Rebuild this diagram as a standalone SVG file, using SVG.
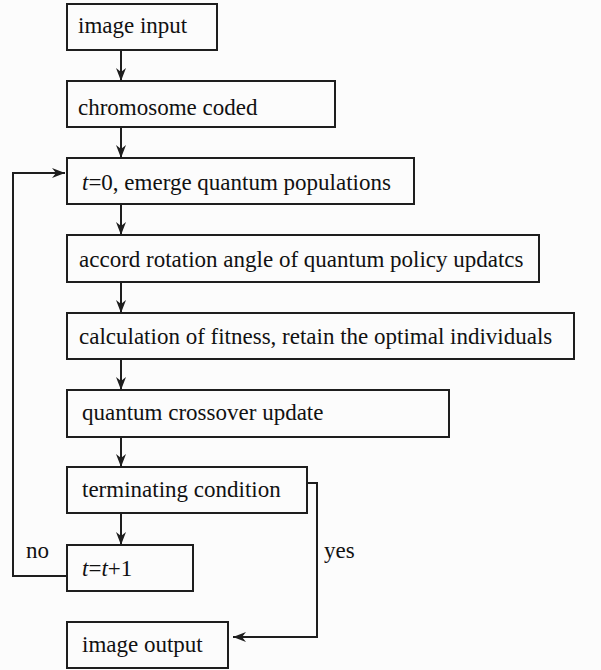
<svg xmlns="http://www.w3.org/2000/svg" width="601" height="670" viewBox="0 0 601 670">
<style>
.box{fill:none;stroke:#1e1e1e;stroke-width:2}
.con{fill:none;stroke:#1e1e1e;stroke-width:2}
</style>
<defs>
<marker id="ah" markerWidth="14" markerHeight="10" refX="13" refY="5" orient="auto" markerUnits="userSpaceOnUse">
<path d="M0,0 L13,5 L0,10 L4,5 Z" fill="#1e1e1e"/>
</marker>
</defs>
<rect width="601" height="670" fill="#fcfcfc"/>
<g id="n1"><rect class="box" x="67" y="4" width="150" height="46"/><text x="78" y="33" font-family="Liberation Serif, serif" font-size="23" fill="#111">image input</text></g>
<g id="n2"><rect class="box" x="67" y="81" width="268" height="46"/><text x="78" y="115" font-family="Liberation Serif, serif" font-size="23" fill="#111">chromosome coded</text></g>
<g id="n3"><rect class="box" x="67" y="158" width="347" height="46"/><text x="82" y="190" font-family="Liberation Serif, serif" font-size="23" fill="#111"><tspan font-style="italic">t</tspan>=0, emerge quantum populations</text></g>
<g id="n4"><rect class="box" x="67" y="235" width="472" height="47"/><text x="79" y="267" font-family="Liberation Serif, serif" font-size="23" fill="#111">accord rotation angle of quantum policy updatcs</text></g>
<g id="n5"><rect class="box" x="67" y="313" width="507" height="46"/><text x="79" y="344" font-family="Liberation Serif, serif" font-size="23" fill="#111">calculation of fitness, retain the optimal individuals</text></g>
<g id="n6"><rect class="box" x="67" y="390" width="382" height="47"/><text x="82" y="420" font-family="Liberation Serif, serif" font-size="23" fill="#111">quantum crossover update</text></g>
<g id="n7"><rect class="box" x="67" y="467" width="240" height="46"/><text x="82" y="497" font-family="Liberation Serif, serif" font-size="23" fill="#111">terminating condition</text></g>
<g id="n8"><rect class="box" x="67" y="545" width="126" height="46"/><text x="82" y="576" font-family="Liberation Serif, serif" font-size="23" fill="#111"><tspan font-style="italic">t</tspan>=<tspan font-style="italic">t</tspan>+1</text></g>
<g id="n9"><rect class="box" x="67" y="622" width="161" height="46"/><text x="82" y="652" font-family="Liberation Serif, serif" font-size="23" fill="#111">image output</text></g>
<g id="connectors">
<line class="con" x1="121" y1="50" x2="121" y2="81" marker-end="url(#ah)"/>
<line class="con" x1="121" y1="127" x2="121" y2="158" marker-end="url(#ah)"/>
<line class="con" x1="121" y1="204" x2="121" y2="235" marker-end="url(#ah)"/>
<line class="con" x1="121" y1="282" x2="121" y2="313" marker-end="url(#ah)"/>
<line class="con" x1="121" y1="359" x2="121" y2="390" marker-end="url(#ah)"/>
<line class="con" x1="121" y1="437" x2="121" y2="467" marker-end="url(#ah)"/>
<line class="con" x1="121" y1="513" x2="121" y2="545" marker-end="url(#ah)"/>
<polyline class="con" points="67,576 13,576 13,173 65,173" marker-end="url(#ah)"/>
<polyline class="con" points="307,483 317,483 317,637 233,637" marker-end="url(#ah)"/>
<text x="26" y="558" font-family="Liberation Serif, serif" font-size="23" fill="#111">no</text>
<text x="324" y="558" font-family="Liberation Serif, serif" font-size="23" fill="#111">yes</text>
</g>
</svg>
